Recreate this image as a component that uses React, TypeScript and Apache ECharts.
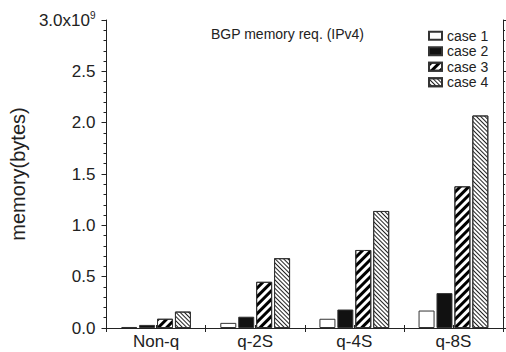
import React, { useEffect, useRef } from "react";
import * as echarts from "echarts";

const categories = ["Non-q", "q-2S", "q-4S", "q-8S"];
const seriesNames = ["case 1", "case 2", "case 3", "case 4"];
const case1 = [0.01e9, 0.05e9, 0.09e9, 0.17e9];
const case2 = [0.03e9, 0.11e9, 0.18e9, 0.34e9];
const case3 = [0.09e9, 0.45e9, 0.76e9, 1.38e9];
const case4 = [0.16e9, 0.68e9, 1.14e9, 2.07e9];
const yTicks = [0, 0.5e9, 1.0e9, 1.5e9, 2.0e9, 2.5e9, 3.0e9];

const FONT = "'Liberation Sans', Arial, Helvetica, sans-serif";

export default function App() {
  const ref = useRef<HTMLDivElement>(null);
  useEffect(() => {
    if (!ref.current) return;
    const chart = echarts.init(ref.current, undefined, { renderer: "svg" });
    const border = { borderColor: "#333", borderWidth: 1 };
    const styles = [
      { color: "#ffffff", ...border },
      { color: "#111111", ...border },
      {
        color: "#ffffff",
        ...border,
        decal: {
          symbol: "rect",
          symbolSize: 1,
          dashArrayX: [1, 0],
          dashArrayY: [3, 3],
          rotation: -Math.PI / 4,
          color: "#000",
          backgroundColor: "#fff",
        },
      },
      {
        color: "#ffffff",
        ...border,
        decal: {
          symbol: "rect",
          symbolSize: 1,
          dashArrayX: [1, 0],
          dashArrayY: [1, 1.6],
          rotation: Math.PI / 4,
          color: "#222",
          backgroundColor: "#fff",
        },
      },
    ];
    const datas = [case1, case2, case3, case4];
    chart.setOption({
      animation: false,
      aria: { enabled: false },
      textStyle: { fontFamily: FONT },
      grid: { left: 92, right: 3, top: 20, bottom: 24, show: false },
      title: {
        text: "BGP memory req. (IPv4)",
        left: 206,
        top: 22,
        textStyle: { fontFamily: FONT, fontSize: 14, fontWeight: "normal", color: "#222" },
      },
      legend: {
        orient: "vertical",
        left: 423,
        top: 23,
        itemWidth: 13,
        itemHeight: 8,
        itemGap: 0,
        icon: "rect",
        data: seriesNames,
        textStyle: { fontFamily: FONT, fontSize: 14, lineHeight: 15.5, color: "#222" },
      },
      xAxis: [
        {
          type: "category",
          data: categories,
          position: "bottom",
          axisLine: { lineStyle: { color: "#222", width: 1 } },
          axisTick: { show: true, length: 4, lineStyle: { color: "#222" } },
          axisLabel: { fontFamily: FONT, fontSize: 17, color: "#222", margin: 5 },
        },
        {
          type: "value",
          position: "top",
          min: 0,
          max: 8,
          interval: 1,
          axisLine: { show: true, lineStyle: { color: "#222", width: 1 } },
          axisTick: { show: true, length: 3, lineStyle: { color: "#222" } },
          axisLabel: { show: false },
          splitLine: { show: false },
        },
      ],
      yAxis: [
        {
          type: "value",
          min: 0,
          max: 3e9,
          interval: 0.5e9,
          name: "memory(bytes)",
          nameLocation: "middle",
          nameGap: 63,
          nameTextStyle: { fontFamily: FONT, fontSize: 20, color: "#222" },
          axisLine: { show: true, lineStyle: { color: "#222", width: 1 } },
          axisTick: { show: true, length: 5, lineStyle: { color: "#222" } },
          minorTick: { show: true, splitNumber: 5, length: 3, lineStyle: { color: "#222" } },
          splitLine: { show: false },
          axisLabel: {
            fontFamily: FONT,
            fontSize: 17,
            color: "#222",
            margin: 11,
            formatter: (v: number) =>
              v === yTicks[yTicks.length - 1]
                ? "{a|" + (v / 1e9).toFixed(1) + "x10}{s|9}"
                : (v / 1e9).toFixed(1),
            rich: {
              a: { fontFamily: FONT, fontSize: 17, color: "#222" },
              s: { fontFamily: FONT, fontSize: 10, color: "#222", verticalAlign: "top", padding: [0, 0, 10, 0] },
            },
          },
        },
        {
          type: "value",
          min: 0,
          max: 3e9,
          interval: 0.5e9,
          position: "right",
          axisLine: { show: true, lineStyle: { color: "#222", width: 1 } },
          axisTick: { show: true, length: 3, lineStyle: { color: "#222" } },
          minorTick: { show: true, splitNumber: 5, length: 2, lineStyle: { color: "#222" } },
          axisLabel: { show: false },
          splitLine: { show: false },
        },
      ],
      series: datas.map((d, i) => ({
        name: seriesNames[i],
        type: "bar",
        xAxisIndex: 0,
        yAxisIndex: 0,
        data: d,
        barWidth: 16,
        barGap: "12%",
        itemStyle: styles[i],
      })),
    });
    return () => chart.dispose();
  }, []);
  return <div ref={ref} style={{ width: 506, height: 352, position: "absolute", left: 0, top: 0 }} />;
}
